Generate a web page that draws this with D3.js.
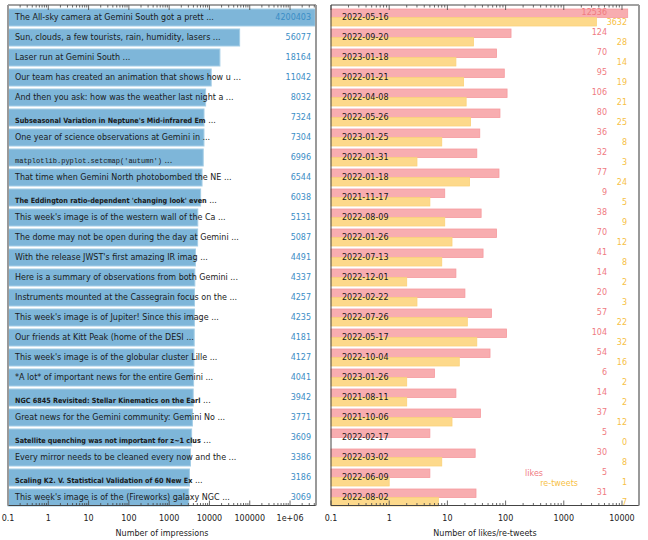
<!DOCTYPE html>
<html><head><meta charset="utf-8">
<script src="https://cdn.jsdelivr.net/npm/d3@7"></script>
<style>body{margin:0;background:#fff}svg{display:block}</style>
</head><body>
<script>
// ---- data ----
const labels = [
 "The All-sky camera at Gemini South got a prett",
 "Sun, clouds, a few tourists, rain, humidity, lasers",
 "Laser run at Gemini South",
 "Our team has created an animation that shows how u",
 "And then you ask: how was the weather last night a",
 "Subseasonal Variation in Neptune's Mid-infrared Em",
 "One year of science observations at Gemini in ",
 "matplotlib.pyplot.setcmap('autumn')",
 "That time when Gemini North photobombed the NE",
 "The Eddington ratio-dependent 'changing look' even",
 "This week's image is of the western wall of the Ca",
 "The dome may not be open during the day at Gemini",
 "With the release JWST's first amazing IR imag",
 "Here is a summary of observations from both Gemini",
 "Instruments mounted at the Cassegrain focus on the",
 "This week's image is of Jupiter! Since this image ",
 "Our friends at Kitt Peak (home of the DESI",
 "This week's image is of the globular cluster Lille",
 "*A lot* of important news for the entire Gemini",
 "NGC 6845 Revisited: Stellar Kinematics on the Earl",
 "Great news for the Gemini community: Gemini No",
 "Satellite quenching was not important for z~1 clus",
 "Every mirror needs to be cleaned every now and the",
 "Scaling K2. V. Statistical Validation of 60 New Ex",
 "This week's image is of the (Fireworks) galaxy NGC"
];
const labelStyles = ["n","n","n","n","n","b","n","m","n","b","n","n","n","n","n","n","n","n","n","b","n","b","n","b","n"];
const impressions = [4200403,56077,18164,11042,8032,7324,7304,6996,6544,6038,5131,5087,4491,4337,4257,4235,4181,4127,4041,3942,3771,3609,3386,3186,3069];
const dates = ["2022-05-16","2022-09-20","2023-01-18","2022-01-21","2022-04-08","2022-05-26","2023-01-25","2022-01-31","2022-01-18","2021-11-17","2022-08-09","2022-01-26","2022-07-13","2022-12-01","2022-02-22","2022-07-26","2022-05-17","2022-10-04","2023-01-26","2021-08-11","2021-10-06","2022-02-17","2022-03-02","2022-06-09","2022-08-02"];
const likes    = [12536,124,70,95,106,80,36,32,77,9,38,70,41,14,20,57,104,54,6,14,37,5,30,5,31];
const retweets = [3632,28,14,19,21,25,8,3,24,5,9,12,8,2,3,22,32,16,2,2,12,0,8,1,7];
const leftTicks  = ["0.1","1","10","100","1000","10000","100000","1e+06"];
const rightTicks = ["0.1","1","10","100","1000","10000"];
const legendLabels = ["likes","re-tweets"];
const axisTitles = ["Number of impressions","Number of likes/re-tweets"];
</script>
<script>
(function(){
const W=648,H=540;
const svg=d3.select("body").append("svg").attr("width",W).attr("height",H);
const FONT="'DejaVu Sans', Verdana, sans-serif";
const n = impressions.length;
const idx = d3.range(n);
const yTop=5, yBot=505.5;
const y = d3.scaleBand().domain(idx).range([7.5,507.5]).paddingInner(0.15).paddingOuter(0.075);
const bw = y.bandwidth();

const xL = d3.scaleLog().domain([0.1, 4200403*1.05]).range([8,316]);
const xR = d3.scaleLog().domain([0.1, 19600]).range([331,639]);

function frame(x, x0, x1, leftColor, tickLabels, title){
  const g = svg.append("g");
  const dom = x.domain();
  const ticks=[];
  for(let e=-1;e<=7;e++){
    for(let m=1;m<=9;m++){
      const v=m*Math.pow(10,e);
      if(v>=dom[0]*0.999 && v<=dom[1]) ticks.push({v,major:m===1});
    }
  }
  ticks.forEach(t=>{
    const px=x(t.v), L=t.major?5:2.5;
    g.append("line").attr("x1",px).attr("x2",px).attr("y1",yTop).attr("y2",yTop+L).attr("stroke","#444").attr("stroke-width",0.8);
    g.append("line").attr("x1",px).attr("x2",px).attr("y1",yBot).attr("y2",yBot-L).attr("stroke","#444").attr("stroke-width",0.8);
  });
  g.append("line").attr("x1",x0).attr("x2",x1).attr("y1",yTop).attr("y2",yTop).attr("stroke","#444").attr("stroke-width",1);
  g.append("line").attr("x1",x0).attr("x2",x1).attr("y1",yBot).attr("y2",yBot).attr("stroke","#444").attr("stroke-width",1);
  g.append("line").attr("x1",x0).attr("x2",x0).attr("y1",yTop).attr("y2",yBot).attr("stroke",leftColor).attr("stroke-width",leftColor==="#444"?1:2);
  g.append("line").attr("x1",x1).attr("x2",x1).attr("y1",yTop).attr("y2",yBot).attr("stroke","#999").attr("stroke-width",2);
  tickLabels.forEach(s=>{
    const v=+s;
    svg.append("text").attr("x",x(v)).attr("y",518).attr("dy","0.35em").attr("text-anchor","middle")
      .attr("font-family",FONT).attr("font-size",8).attr("fill","#222").text(s);
  });
  svg.append("text").attr("x",(x0+x1)/2).attr("y",533).attr("dy","0.35em").attr("text-anchor","middle")
    .attr("font-family",FONT).attr("font-size",8).attr("fill","#222").text(title);
}

// ---- left panel ----
const gL = svg.append("g");
gL.selectAll("rect").data(idx).join("rect")
  .attr("x",xL(0.1)).attr("y",i=>y(i)).attr("width",i=>xL(impressions[i])-xL(0.1)).attr("height",bw)
  .attr("fill","#7eb6d9").attr("stroke","#a3cde6").attr("stroke-width",1);
idx.forEach(i=>{
  const t = gL.append("text").attr("x",15).attr("y",y(i)+bw/2).attr("dy","0.33em").attr("fill","#1a1a1a");
  const st = labelStyles[i];
  if(st==="b"){
    t.append("tspan").attr("font-family","'DejaVu Sans Condensed','DejaVu Sans',sans-serif").attr("font-weight","bold").attr("font-size",7.2).text(labels[i]);
    t.append("tspan").attr("font-family",FONT).attr("font-size",8).text(" ...");
  } else if(st==="m"){
    t.append("tspan").attr("font-family","'Liberation Mono','DejaVu Sans Mono',monospace").attr("font-size",7).text(labels[i]);
    t.append("tspan").attr("font-family",FONT).attr("font-size",8).text(" ...");
  } else {
    t.attr("font-family",FONT).attr("font-size",8).text(labels[i]+" ...");
  }
  gL.append("text").attr("x",311).attr("y",y(i)+bw/2).attr("dy","0.33em").attr("text-anchor","end")
    .attr("font-family",FONT).attr("font-size",8).attr("fill","#3a8dc6").text(impressions[i]);
});
frame(xL,8,316,"#999",leftTicks,axisTitles[0]);

// ---- right panel ----
const gR = svg.append("g");
gR.selectAll("rect.l").data(idx).join("rect").attr("class","l")
  .attr("x",xR(0.1)).attr("y",i=>y(i)).attr("width",i=>xR(likes[i])-xR(0.1)).attr("height",bw/2)
  .attr("fill","#f8adb0").attr("stroke","#f59a9f").attr("stroke-width",0.8);
gR.selectAll("rect.r").data(idx.filter(i=>retweets[i]>0)).join("rect").attr("class","r")
  .attr("x",xR(0.1)).attr("y",i=>y(i)+bw/2).attr("width",i=>xR(retweets[i])-xR(0.1)).attr("height",bw/2)
  .attr("fill","#fdd98b").attr("stroke","#fbd27a").attr("stroke-width",0.8);
idx.forEach(i=>{
  gR.append("text").attr("x",342).attr("y",y(i)+bw/2).attr("dy","0.35em")
    .attr("font-family",FONT).attr("font-size",8).attr("fill","#1a1a1a").text(dates[i]);
  gR.append("text").attr("x",607).attr("y",y(i)+3.5).attr("dy","0.35em").attr("text-anchor","end")
    .attr("font-family",FONT).attr("font-size",8).attr("fill","#f07a7f").text(likes[i]);
  gR.append("text").attr("x",627).attr("y",y(i)+13.3).attr("dy","0.35em").attr("text-anchor","end")
    .attr("font-family",FONT).attr("font-size",8).attr("fill","#f7bf45").text(retweets[i]);
});
frame(xR,331,639,"#444",rightTicks,axisTitles[1]);
svg.append("text").attr("x",543).attr("y",472.7).attr("dy","0.35em").attr("text-anchor","end")
  .attr("font-family",FONT).attr("font-size",8).attr("fill","#f07a7f").text(legendLabels[0]);
svg.append("text").attr("x",578).attr("y",482.7).attr("dy","0.35em").attr("text-anchor","end")
  .attr("font-family",FONT).attr("font-size",8).attr("fill","#f7bf45").text(legendLabels[1]);
})();
</script>
</body></html>
